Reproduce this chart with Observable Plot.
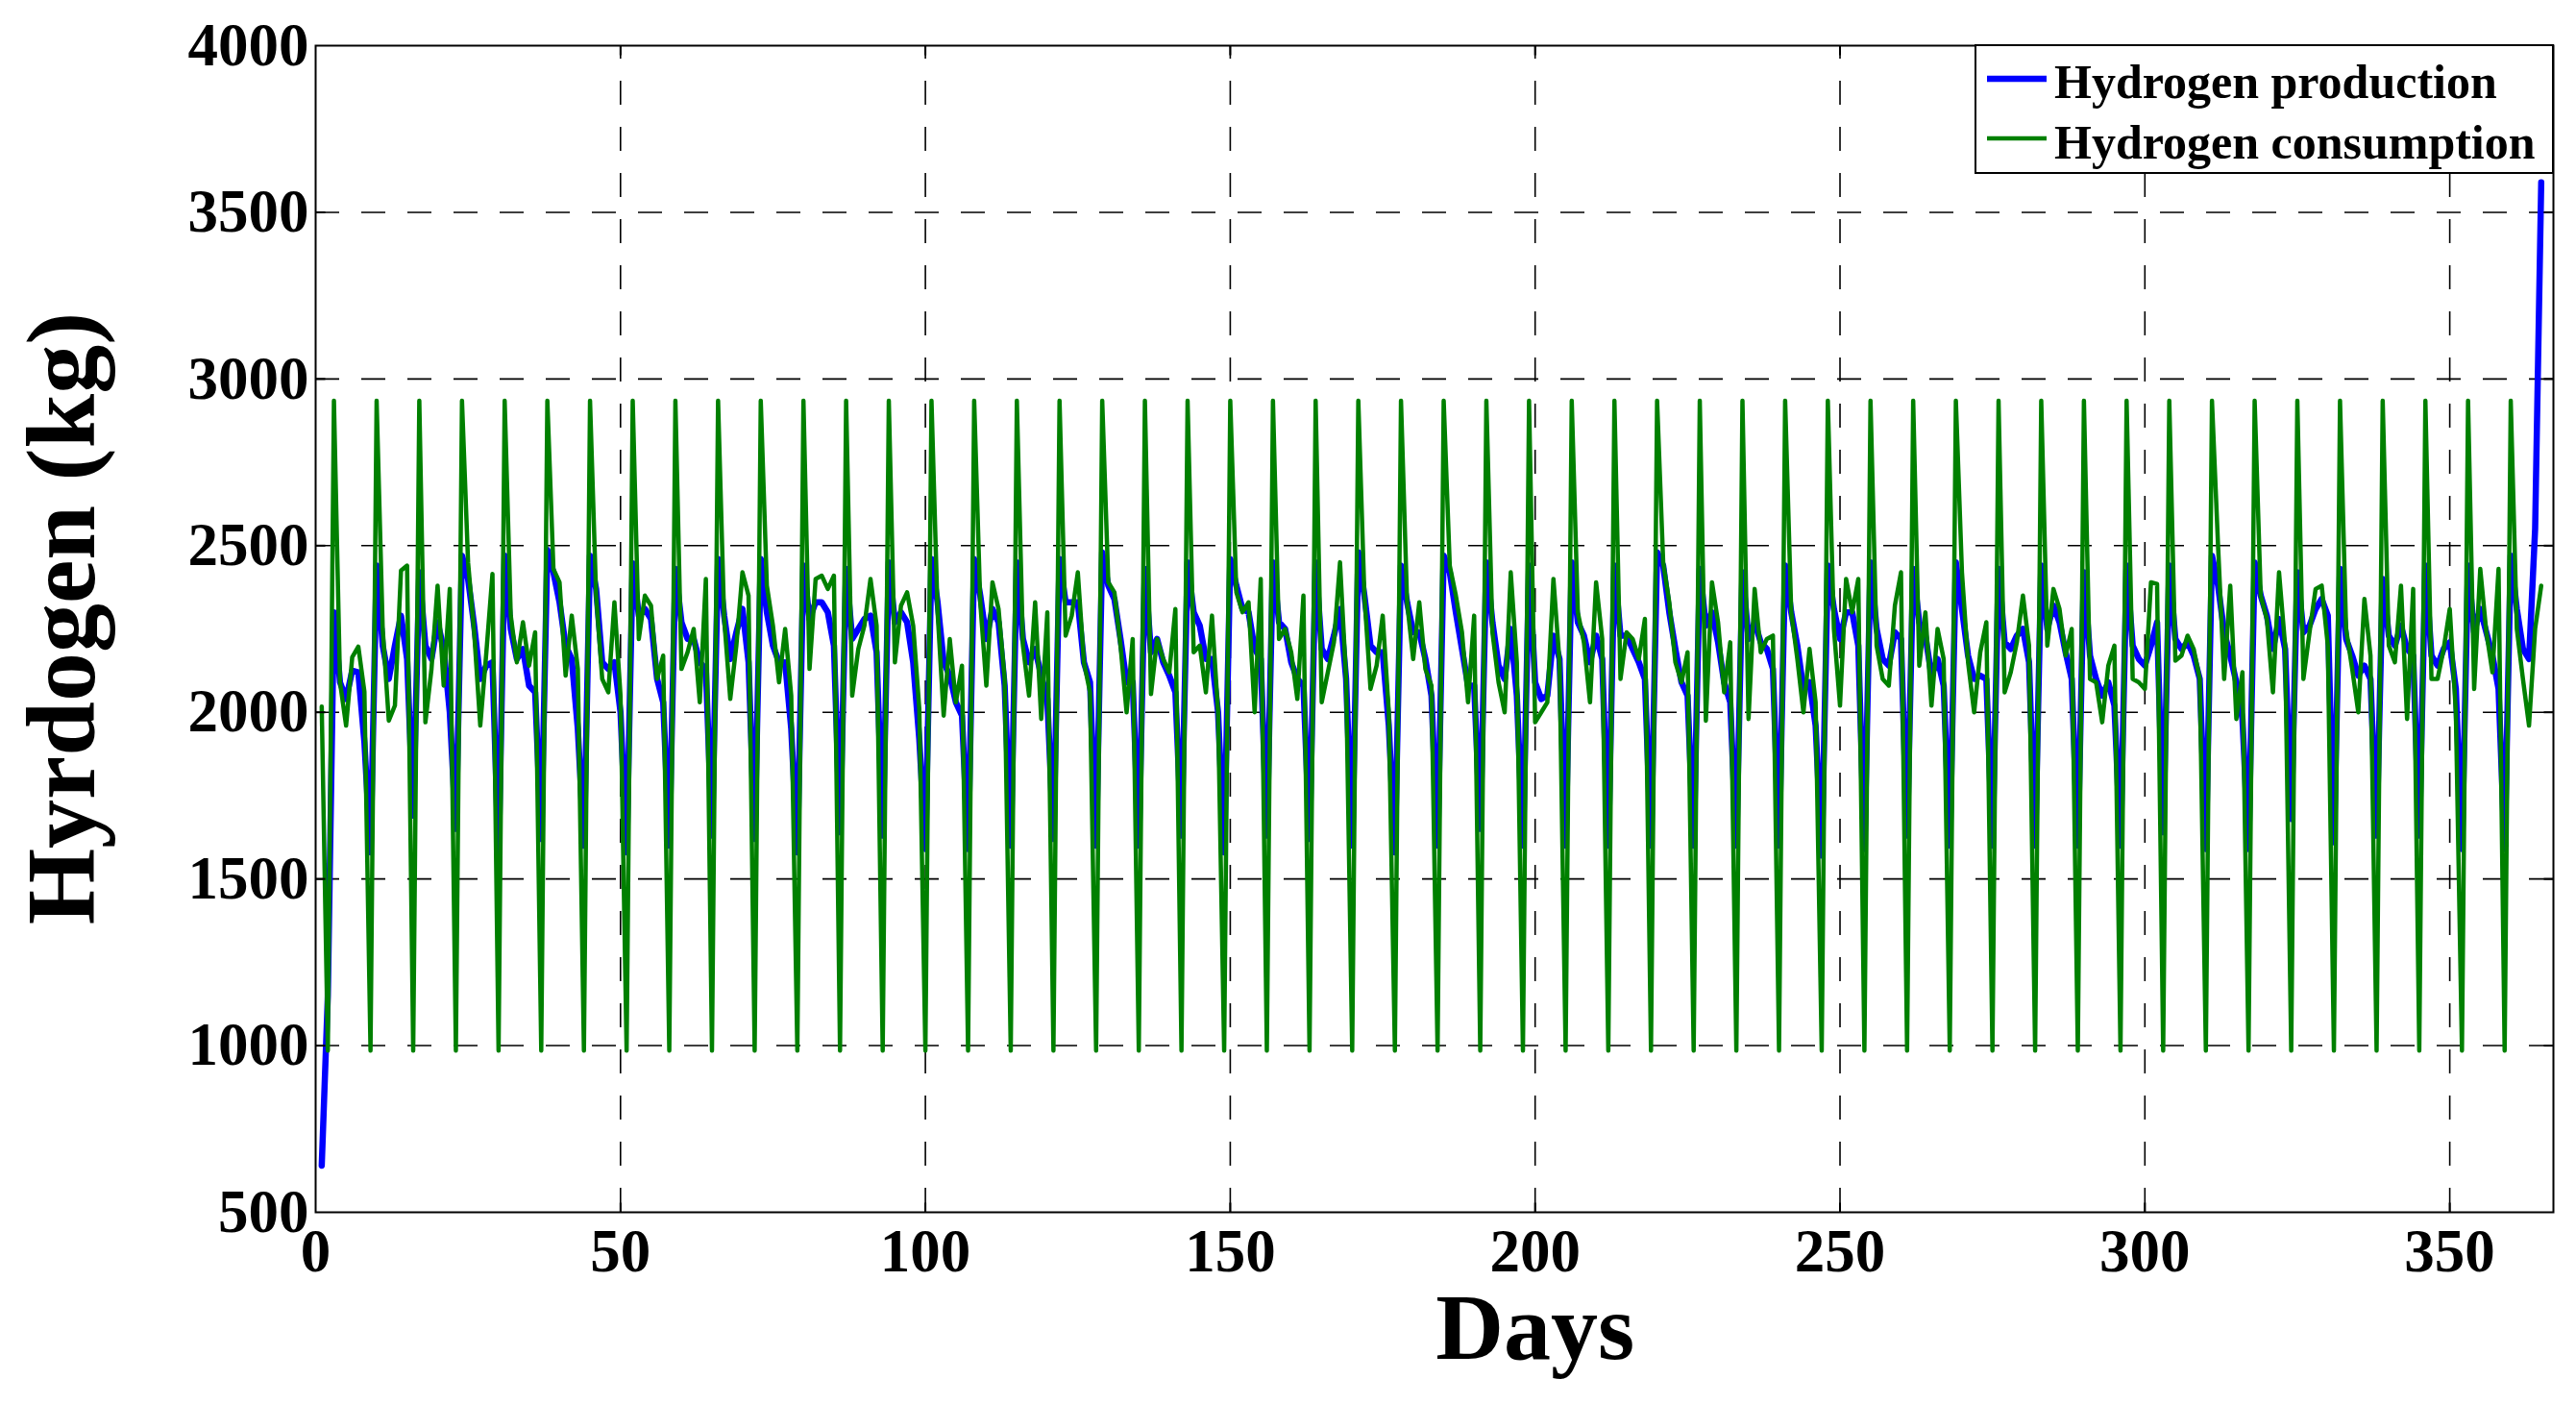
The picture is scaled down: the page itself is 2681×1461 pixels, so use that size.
<!DOCTYPE html>
<html>
<head>
<meta charset="utf-8">
<script src="https://cdn.jsdelivr.net/npm/d3@7"></script>
<script src="https://cdn.jsdelivr.net/npm/@observablehq/plot@0.6"></script>
<style>
  html, body { margin: 0; padding: 0; background: #ffffff; overflow: hidden; }
  svg { display: block; }
</style>
</head>
<body>
<div id="chart"></div>
<script>
// ---------------- data ----------------
const days = d3.range(1, 366); // day index 1..365

// Hydrogen production (kg), one value per day (row = dip day .. 6 days later)
const production = [
  640,
  1150, 2300, 2090, 2040, 2125, 2120, 1910,
  1580, 2440, 2200, 2100, 2200, 2290, 2160,
  1690, 2420, 2200, 2160, 2270, 2190, 2000,
  1650, 2470, 2400, 2260, 2100, 2140, 2150,
  1565, 2470, 2250, 2160, 2190, 2080, 2060,
  1620, 2487, 2420, 2330, 2200, 2160, 1950,
  1600, 2470, 2370, 2150, 2130, 2150, 2000,
  1580, 2447, 2290, 2310, 2280, 2100, 2030,
  1600, 2430, 2270, 2220, 2220, 2150, 2130,
  1630, 2460, 2290, 2160, 2240, 2310, 2150,
  1620, 2460, 2300, 2200, 2150, 2150, 1950,
  1580, 2440, 2280, 2330, 2330, 2300, 2200,
  1640, 2430, 2220, 2250, 2280, 2290, 2180,
  1630, 2450, 2270, 2300, 2270, 2150, 1920,
  1590, 2460, 2330, 2150, 2110, 2030, 1990,
  1590, 2460, 2350, 2220, 2310, 2270, 2080,
  1600, 2450, 2220, 2150, 2190, 2110, 2040,
  1620, 2460, 2330, 2330, 2330, 2150, 2090,
  1600, 2480, 2380, 2340, 2220, 2090, 2090,
  1600, 2430, 2180, 2220, 2150, 2110, 2060,
  1630, 2450, 2300, 2260, 2160, 2160, 2000,
  1580, 2460, 2380, 2310, 2300, 2190, 2160,
  1630, 2450, 2270, 2250, 2150, 2100, 2080,
  1620, 2450, 2190, 2160, 2230, 2310, 2100,
  1600, 2480, 2350, 2200, 2180, 2180, 1960,
  1580, 2440, 2330, 2240, 2240, 2160, 2050,
  1600, 2470, 2420, 2300, 2190, 2080, 2080,
  1650, 2450, 2270, 2140, 2100, 2250, 2050,
  1600, 2440, 2090, 2040, 2050, 2230, 2160,
  1600, 2450, 2270, 2230, 2150, 2230, 2160,
  1600, 2440, 2230, 2230, 2190, 2150, 2100,
  1600, 2480, 2440, 2300, 2190, 2090, 2050,
  1600, 2430, 2260, 2300, 2210, 2090, 2030,
  1600, 2420, 2220, 2270, 2210, 2190, 2130,
  1600, 2440, 2300, 2200, 2070, 2090, 1960,
  1570, 2440, 2310, 2220, 2300, 2300, 2200,
  1590, 2450, 2250, 2160, 2140, 2240, 2220,
  1630, 2430, 2270, 2230, 2110, 2160, 2080,
  1600, 2450, 2310, 2170, 2100, 2110, 2100,
  1600, 2430, 2210, 2190, 2230, 2250, 2150,
  1600, 2440, 2250, 2320, 2270, 2180, 2100,
  1600, 2420, 2170, 2100, 2050, 2090, 2020,
  1600, 2440, 2200, 2160, 2140, 2200, 2270,
  1640, 2440, 2220, 2190, 2210, 2170, 2100,
  1590, 2470, 2380, 2240, 2170, 2090, 1980,
  1590, 2450, 2350, 2290, 2190, 2280, 2190,
  1680, 2420, 2240, 2260, 2310, 2340, 2290,
  1610, 2430, 2220, 2170, 2110, 2140, 2100,
  1630, 2400, 2230, 2200, 2260, 2190, 2170,
  1630, 2440, 2170, 2140, 2190, 2210, 2070,
  1590, 2440, 2240, 2310, 2240, 2170, 2070,
  1590, 2470, 2310, 2190, 2160, 2550, 3590
];

// Hydrogen consumption (kg), one value per day
const consumption = [
  2017,
  985, 2935, 2090, 1960, 2165, 2197, 2062,
  985, 2935, 2250, 1975, 2020, 2425, 2440,
  985, 2935, 1970, 2130, 2380, 2080, 2370,
  985, 2935, 2450, 2240, 1960, 2180, 2415,
  985, 2935, 2290, 2150, 2270, 2140, 2240,
  985, 2935, 2430, 2390, 2110, 2290, 2130,
  985, 2935, 2350, 2100, 2060, 2330, 2050,
  985, 2935, 2220, 2350, 2320, 2100, 2170,
  985, 2935, 2130, 2180, 2250, 2030, 2400,
  985, 2935, 2280, 2040, 2200, 2420, 2350,
  985, 2935, 2380, 2260, 2090, 2250, 2050,
  985, 2935, 2130, 2400, 2410, 2370, 2410,
  985, 2935, 2050, 2190, 2260, 2400, 2260,
  985, 2935, 2150, 2320, 2360, 2260, 2010,
  985, 2935, 2300, 1990, 2220, 2030, 2140,
  985, 2935, 2330, 2080, 2390, 2310, 2100,
  985, 2935, 2200, 2050, 2330, 1980, 2300,
  985, 2935, 2230, 2290, 2420, 2150, 2060,
  985, 2935, 2390, 2360, 2200, 2000, 2220,
  985, 2935, 2055, 2220, 2160, 2120, 2310,
  985, 2935, 2180, 2200, 2060, 2290, 2000,
  985, 2935, 2360, 2300, 2330, 2000, 2400,
  985, 2935, 2220, 2250, 2180, 2040, 2350,
  985, 2935, 2030, 2120, 2210, 2450, 2100,
  985, 2935, 2350, 2070, 2140, 2290, 2000,
  985, 2935, 2330, 2160, 2330, 2130, 2080,
  985, 2935, 2440, 2350, 2240, 2030, 2290,
  985, 2935, 2240, 2090, 2000, 2420, 2150,
  985, 2935, 1970, 2000, 2030, 2400, 2150,
  985, 2935, 2300, 2210, 2030, 2390, 2220,
  985, 2935, 2100, 2240, 2220, 2160, 2280,
  985, 2935, 2450, 2330, 2150, 2090, 2180,
  985, 2935, 1975, 2390, 2270, 2060, 2210,
  985, 2935, 1980, 2370, 2180, 2220, 2230,
  985, 2935, 2300, 2160, 2000, 2190, 2030,
  985, 2935, 2250, 2020, 2400, 2300, 2400,
  985, 2935, 2200, 2100, 2080, 2320, 2420,
  985, 2935, 2140, 2300, 2020, 2250, 2160,
  985, 2935, 2420, 2150, 2000, 2180, 2270,
  985, 2935, 2060, 2120, 2210, 2350, 2200,
  985, 2935, 2200, 2370, 2310, 2170, 2250,
  985, 2935, 2100, 2090, 1970, 2140, 2200,
  985, 2935, 2100, 2090, 2070, 2390, 2385,
  985, 2935, 2155, 2170, 2230, 2190, 2100,
  985, 2935, 2500, 2100, 2380, 1980, 2120,
  985, 2935, 2350, 2280, 2060, 2420, 2200,
  985, 2935, 2100, 2240, 2370, 2380, 2200,
  985, 2935, 2250, 2130, 2000, 2340, 2170,
  985, 2935, 2200, 2150, 2380, 1980, 2370,
  985, 2935, 2100, 2100, 2190, 2310, 2000,
  985, 2935, 2070, 2430, 2240, 2120, 2430,
  985, 2935, 2250, 2100, 1960, 2250, 2380
];

const xTicks = [0, 50, 100, 150, 200, 250, 300, 350];
const yTicks = [500, 1000, 1500, 2000, 2500, 3000, 3500, 4000];
const seriesNames = ["Hydrogen production", "Hydrogen consumption"];
const seriesColors = ["#0000ff", "#008000"];
const seriesWidths = [6.5, 4.5];
const xLabel = "Days";
const yLabel = "Hyrdogen (kg)";
const xLabelAt = 200; // the axis title sits under this tick in the original
const xDomain = [0, 367];
const yDomain = [500, 4000];

// ---------------- layout ----------------
const W = 2681, H = 1461;
const mL = 328, mR = 24, mT = 47, mB = 200;
const font = "'Liberation Serif', 'Times New Roman', Times, serif";

const rows = days.map((d, i) => ({day: d, production: production[i], consumption: consumption[i]}));

const tickPx = 10;
const dxTick = tickPx * (xDomain[1] - xDomain[0]) / (W - mL - mR);
const dyTick = tickPx * (yDomain[1] - yDomain[0]) / (H - mT - mB);
const innerX = xTicks.filter(t => t > xDomain[0] && t < xDomain[1]);
const innerY = yTicks.filter(t => t > yDomain[0] && t < yDomain[1]);

const gridStyle = {stroke: "black", strokeWidth: 1.6, strokeDasharray: "25,23"};
const tickStyle = {stroke: "black", strokeWidth: 2};
const textStyle = {fontFamily: font, fontWeight: "bold", fill: "black"};

const plot = Plot.plot({
  width: W, height: H,
  marginLeft: mL, marginRight: mR, marginTop: mT, marginBottom: mB,
  style: {fontFamily: font, fontWeight: "bold", background: "white", color: "black"},
  x: {domain: xDomain},
  y: {domain: yDomain},
  marks: [
    Plot.ruleY(innerY, gridStyle),
    Plot.ruleX(innerX, {...gridStyle, y1: yDomain[0], y2: yDomain[1]}),
    Plot.line(rows, {x: "day", y: "production", stroke: seriesColors[0], strokeWidth: seriesWidths[0], strokeLinejoin: "round"}),
    Plot.line(rows, {x: "day", y: "consumption", stroke: seriesColors[1], strokeWidth: seriesWidths[1], strokeLinejoin: "round"}),
    // inward ticks on all four sides
    Plot.link(innerX, {x1: d => d, x2: d => d, y1: yDomain[0], y2: yDomain[0] + dyTick, ...tickStyle}),
    Plot.link(innerX, {x1: d => d, x2: d => d, y1: yDomain[1], y2: yDomain[1] - dyTick, ...tickStyle}),
    Plot.link(innerY, {y1: d => d, y2: d => d, x1: xDomain[0], x2: xDomain[0] + dxTick, ...tickStyle}),
    Plot.link(innerY, {y1: d => d, y2: d => d, x1: xDomain[1], x2: xDomain[1] - dxTick, ...tickStyle}),
    Plot.frame({stroke: "black", strokeWidth: 2}),
    Plot.axisX(xTicks, {tickSize: 0, tickPadding: 17, fontSize: 63, ...textStyle, tickFormat: d => String(d), label: null}),
    Plot.axisY(yTicks, {tickSize: 0, tickPadding: 7, fontSize: 63, ...textStyle, tickFormat: d => String(d), label: null}),
    Plot.text([yLabel], {frameAnchor: "left", rotate: -90, textAnchor: "middle", lineAnchor: "middle", dx: -263, dy: -11, fontSize: 102, ...textStyle}),
    Plot.text([xLabel], {x: [xLabelAt], frameAnchor: "bottom", textAnchor: "middle", lineAnchor: "bottom", dy: 152, fontSize: 98, ...textStyle})
  ]
});

document.getElementById("chart").appendChild(plot);

// ---------------- legend (inside the top-right corner of the axes) ----------------
const svg = d3.select(plot);
const lg = svg.append("g").attr("class", "legend").attr("text-anchor", "start");
lg.append("rect")
  .attr("x", 2056).attr("y", 47).attr("width", W - mR - 2056).attr("height", 133)
  .attr("fill", "white").attr("stroke", "black").attr("stroke-width", 2);
const legendLineY = [82, 144];
const legendTextY = [102, 165];
seriesNames.forEach((name, i) => {
  lg.append("line")
    .attr("x1", 2068).attr("x2", 2130)
    .attr("y1", legendLineY[i]).attr("y2", legendLineY[i])
    .attr("stroke", seriesColors[i]).attr("stroke-width", seriesWidths[i]);
  lg.append("text")
    .attr("x", 2138).attr("y", legendTextY[i])
    .attr("text-anchor", "start")
    .attr("font-family", font).attr("font-weight", "bold").attr("font-size", 50)
    .attr("fill", "black")
    .text(name);
});
</script>
</body>
</html>
